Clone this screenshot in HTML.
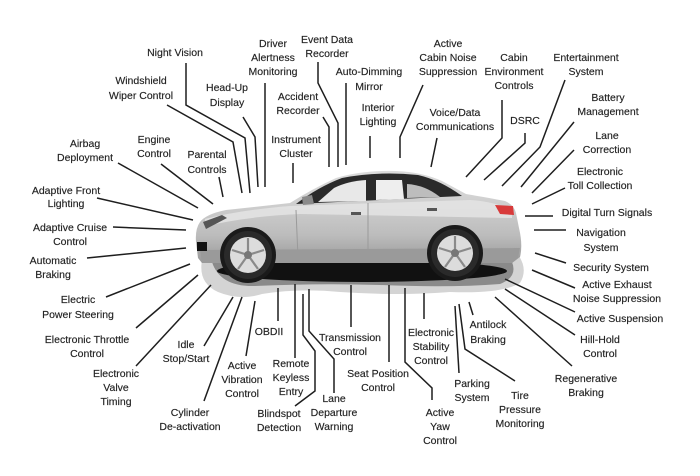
<!DOCTYPE html>
<html><head><meta charset="utf-8"><style>
html,body{margin:0;padding:0;background:#fff;}
svg{display:block;}
text{font-family:"Liberation Sans",sans-serif;font-size:10.5px;fill:#222;text-anchor:middle;stroke:#222;stroke-width:0.15;}
.l{fill:none;stroke:#1e1e1e;stroke-width:1.5;}
</style></head><body>
<svg width="700" height="476" viewBox="0 0 700 476" xmlns="http://www.w3.org/2000/svg">
<defs>
<linearGradient id="bg" x1="0" y1="0" x2="0" y2="1">
<stop offset="0" stop-color="#dcdcdc"/><stop offset="0.35" stop-color="#cfcfcf"/><stop offset="0.7" stop-color="#bcbcbc"/><stop offset="1" stop-color="#999"/>
</linearGradient>
</defs>
<rect width="700" height="476" fill="#fff"/>

<!-- halo & shadow -->
<path d="M203,256 Q196,282 218,292 Q240,301 262,294 Q300,288 340,292 Q400,296 450,292 Q502,294 520,283 Q528,270 519,256 Z" fill="#d4d4d4"/>
<path d="M212,262 Q220,287 255,286 Q320,283 380,285 Q450,288 500,284 Q518,277 512,262 Z" fill="#8a8a8a"/>
<ellipse cx="362" cy="271" rx="145" ry="11" fill="#111"/>

<!-- body -->
<path d="M198,258 L196,242 Q195,229 200,222 Q206,214 226,210 L290,203 Q312,189 336,178 Q362,170 396,171 Q422,172 442,181 L466,194 Q490,198 505,201 Q514,205 516,213 L519,228 Q523,245 520,257 L512,263 L202,263 Z" fill="url(#bg)"/>
<path d="M205,219 Q240,210 290,206 L470,200 Q500,202 512,212 L512,218 L300,214 Q250,216 206,226 Z" fill="#e4e4e4" opacity="0.85"/>
<path d="M200,250 L520,248 L518,258 L512,263 L202,263 Z" fill="#9a9a9a"/>
<!-- greenhouse -->
<path d="M296,204 Q318,187 342,178 Q378,171 418,175 Q440,180 462,196 L296,204 Z" fill="#2a2a2a"/>
<path d="M318,202 L334,188 Q348,181 366,180 L366,201 Z" fill="#e8e8e8"/>
<path d="M376,180 L402,180 L404,199 L376,200 Z" fill="#eeeeee"/>
<path d="M407,184 Q425,185 440,197 L407,198 Z" fill="#bdbdbd"/>
<path d="M302,197 L312,195 L314,204 L303,205 Z" fill="#8a8a8a"/>
<!-- door lines -->
<path d="M368,203 L368,258 M296,210 L298,258" stroke="#9a9a9a" stroke-width="1" fill="none"/>
<rect x="351" y="212" width="10" height="3" fill="#555"/>
<rect x="427" y="208" width="10" height="3" fill="#555"/>
<!-- lights -->
<path d="M203,222 L222,215 L227,218 L206,229 Z" fill="#555"/>
<rect x="197" y="242" width="10" height="9" fill="#111"/>
<path d="M495,205 L513,206 L514,215 L500,214 Z" fill="#d83a3a"/>
<!-- wheels -->
<circle cx="248" cy="255" r="28" fill="#1a1a1a"/>
<circle cx="248" cy="255" r="24" fill="#2a2a2a"/>
<circle cx="248" cy="255" r="18" fill="#dcdcdc"/>
<g stroke="#8a8a8a" stroke-width="2.2">
<path d="M248,255 L248,238 M248,255 L264,250 M248,255 L258,269 M248,255 L238,269 M248,255 L232,250"/>
</g>
<circle cx="248" cy="255" r="4" fill="#777"/>
<circle cx="455" cy="253" r="28" fill="#1a1a1a"/>
<circle cx="455" cy="253" r="24" fill="#2a2a2a"/>
<circle cx="455" cy="253" r="18" fill="#dcdcdc"/>
<g stroke="#8a8a8a" stroke-width="2.2">
<path d="M455,253 L455,236 M455,253 L471,248 M455,253 L465,267 M455,253 L445,267 M455,253 L439,248"/>
</g>
<circle cx="455" cy="253" r="4" fill="#777"/>

<!-- connector lines -->
<polyline class="l" points="186,63 186,105 245,138 250,193"/>
<polyline class="l" points="167,105 233,142 242,193"/>
<polyline class="l" points="243,117 255,137 258,187"/>
<polyline class="l" points="265,83 265,187"/>
<polyline class="l" points="318,62 318,83 338,123 338,167"/>
<polyline class="l" points="323,117 329,127 329,167"/>
<polyline class="l" points="346,83 346,165"/>
<polyline class="l" points="293,163 293,183"/>
<polyline class="l" points="219,177 223,197"/>
<polyline class="l" points="161,164 213,204"/>
<polyline class="l" points="118,163 198,208"/>
<polyline class="l" points="97,198 193,220"/>
<polyline class="l" points="113,227 186,230"/>
<polyline class="l" points="370,136 370,158"/>
<polyline class="l" points="423,85 400,137 400,158"/>
<polyline class="l" points="437,138 431,167"/>
<polyline class="l" points="502,100 502,138 466,177"/>
<polyline class="l" points="525,133 525,143 484,180"/>
<polyline class="l" points="565,80 540,147 502,186"/>
<polyline class="l" points="574,122 521,187"/>
<polyline class="l" points="574,150 532,193"/>
<polyline class="l" points="565,188 532,204"/>
<polyline class="l" points="525,216 553,216"/>
<polyline class="l" points="534,230 566,230"/>
<polyline class="l" points="535,253 566,263"/>
<polyline class="l" points="532,270 575,288"/>
<polyline class="l" points="505,279 575,312"/>
<polyline class="l" points="505,289 575,335"/>
<polyline class="l" points="495,297 572,366"/>
<polyline class="l" points="469,302 473,315"/>
<polyline class="l" points="459,304 465,349 515,381"/>
<polyline class="l" points="455,306 459,373"/>
<polyline class="l" points="424,293 424,319"/>
<polyline class="l" points="405,288 405,362 432,388 432,400"/>
<polyline class="l" points="389,285 389,362"/>
<polyline class="l" points="351,285 351,327"/>
<polyline class="l" points="309,289 309,331 334,359 334,393"/>
<polyline class="l" points="303,294 303,335 315,351 315,391 295,406"/>
<polyline class="l" points="295,284 295,358"/>
<polyline class="l" points="278,288 278,321"/>
<polyline class="l" points="255,301 246,356"/>
<polyline class="l" points="242,297 204,401"/>
<polyline class="l" points="233,297 204,346"/>
<polyline class="l" points="211,285 136,366"/>
<polyline class="l" points="198,275 136,328"/>
<polyline class="l" points="190,264 106,297"/>
<polyline class="l" points="186,248 87,258"/>

<!-- labels -->
<text x="175" y="56">Night Vision</text>
<text x="141" y="84">Windshield</text><text x="141" y="99">Wiper Control</text>
<text x="227" y="91">Head-Up</text><text x="227" y="106">Display</text>
<text x="273" y="47">Driver</text><text x="273" y="61">Alertness</text><text x="273" y="75">Monitoring</text>
<text x="327" y="43">Event Data</text><text x="327" y="57">Recorder</text>
<text x="298" y="100">Accident</text><text x="298" y="114">Recorder</text>
<text x="85" y="147">Airbag</text><text x="85" y="161">Deployment</text>
<text x="154" y="143">Engine</text><text x="154" y="157">Control</text>
<text x="207" y="158">Parental</text><text x="207" y="173">Controls</text>
<text x="296" y="143">Instrument</text><text x="296" y="157">Cluster</text>
<text x="66" y="194">Adaptive Front</text><text x="66" y="207">Lighting</text>
<text x="70" y="231">Adaptive Cruise</text><text x="70" y="245">Control</text>
<text x="369" y="75">Auto-Dimming</text><text x="369" y="90">Mirror</text>
<text x="448" y="47">Active</text><text x="448" y="61">Cabin Noise</text><text x="448" y="75">Suppression</text>
<text x="514" y="61">Cabin</text><text x="514" y="75">Environment</text><text x="514" y="89">Controls</text>
<text x="586" y="61">Entertainment</text><text x="586" y="75">System</text>
<text x="378" y="111">Interior</text><text x="378" y="125">Lighting</text>
<text x="455" y="116">Voice/Data</text><text x="455" y="130">Communications</text>
<text x="525" y="124">DSRC</text>
<text x="608" y="101">Battery</text><text x="608" y="115">Management</text>
<text x="607" y="139">Lane</text><text x="607" y="153">Correction</text>
<text x="600" y="175">Electronic</text><text x="600" y="189">Toll Collection</text>
<text x="607" y="216">Digital Turn Signals</text>
<text x="601" y="236">Navigation</text><text x="601" y="251">System</text>
<text x="611" y="271">Security System</text>
<text x="617" y="288">Active Exhaust</text><text x="617" y="302">Noise Suppression</text>
<text x="620" y="322">Active Suspension</text>
<text x="600" y="343">Hill-Hold</text><text x="600" y="357">Control</text>
<text x="586" y="382">Regenerative</text><text x="586" y="396">Braking</text>
<text x="488" y="328">Antilock</text><text x="488" y="343">Braking</text>
<text x="520" y="399">Tire</text><text x="520" y="413">Pressure</text><text x="520" y="427">Monitoring</text>
<text x="472" y="387">Parking</text><text x="472" y="401">System</text>
<text x="431" y="336">Electronic</text><text x="431" y="350">Stability</text><text x="431" y="364">Control</text>
<text x="440" y="416">Active</text><text x="440" y="430">Yaw</text><text x="440" y="444">Control</text>
<text x="378" y="377">Seat Position</text><text x="378" y="391">Control</text>
<text x="350" y="341">Transmission</text><text x="350" y="355">Control</text>
<text x="53" y="264">Automatic</text><text x="53" y="278">Braking</text>
<text x="78" y="303">Electric</text><text x="78" y="318">Power Steering</text>
<text x="87" y="343">Electronic Throttle</text><text x="87" y="357">Control</text>
<text x="116" y="377">Electronic</text><text x="116" y="391">Valve</text><text x="116" y="405">Timing</text>
<text x="186" y="348">Idle</text><text x="186" y="362">Stop/Start</text>
<text x="190" y="416">Cylinder</text><text x="190" y="430">De-activation</text>
<text x="242" y="369">Active</text><text x="242" y="383">Vibration</text><text x="242" y="397">Control</text>
<text x="269" y="335">OBDII</text>
<text x="291" y="367">Remote</text><text x="291" y="381">Keyless</text><text x="291" y="395">Entry</text>
<text x="279" y="417">Blindspot</text><text x="279" y="431">Detection</text>
<text x="334" y="402">Lane</text><text x="334" y="416">Departure</text><text x="334" y="430">Warning</text>
</svg>
</body></html>
